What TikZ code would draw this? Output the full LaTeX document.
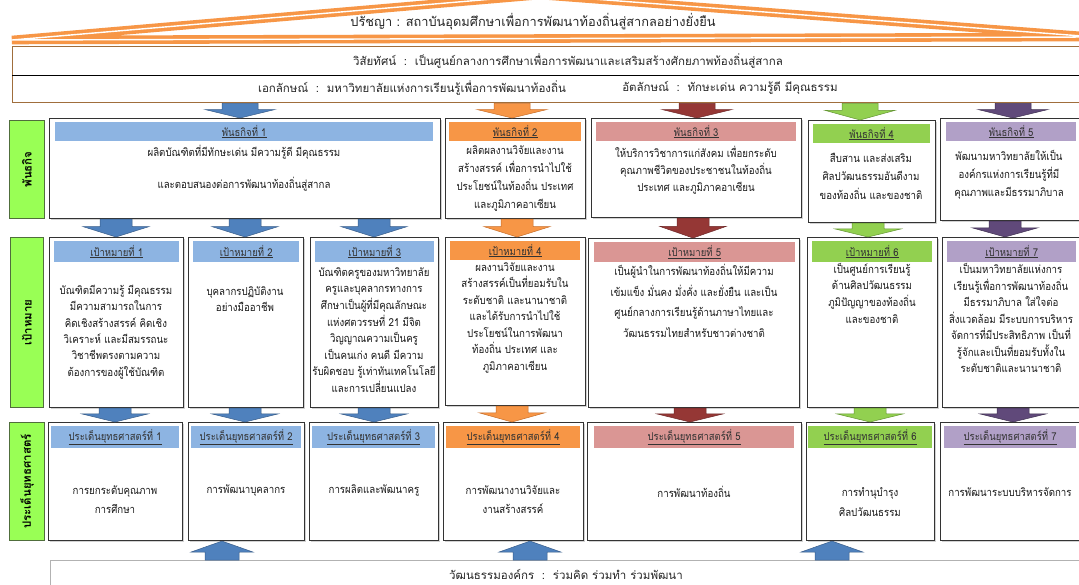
\documentclass[tikz,border=0pt]{standalone}
\usepackage{fontspec}
\newfontfamily\thai[Script=Thai]{Loma}
\newfontfamily\thaic[Script=Thai,FakeStretch=0.88]{Loma}
\usetikzlibrary{calc,shadows}
\definecolor{roof}{RGB}{247,150,70}
\definecolor{brownline}{RGB}{160,110,60}
\definecolor{hblue}{RGB}{141,180,226}
\definecolor{horange}{RGB}{247,150,70}
\definecolor{hpink}{RGB}{218,150,148}
\definecolor{hgreen}{RGB}{146,208,80}
\definecolor{hpurple}{RGB}{177,160,199}
\definecolor{ablue}{RGB}{79,129,189}
\definecolor{ablueD}{RGB}{56,93,138}
\definecolor{aorange}{RGB}{247,150,70}
\definecolor{aorangeD}{RGB}{200,110,40}
\definecolor{ared}{RGB}{149,55,53}
\definecolor{aredD}{RGB}{110,40,40}
\definecolor{agreen}{RGB}{146,208,80}
\definecolor{agreenD}{RGB}{100,150,50}
\definecolor{apurple}{RGB}{96,73,122}
\definecolor{apurpleD}{RGB}{64,49,82}
\definecolor{lime}{RGB}{153,255,85}
\definecolor{limeD}{RGB}{80,110,60}
\tikzset{
  mainbox/.style={draw=black!80, line width=1.1pt, fill=white, inner sep=0pt, anchor=north west,
    drop shadow={shadow xshift=1.6pt, shadow yshift=-1.6pt, fill=black!35}},
  sidebox/.style={draw=limeD, line width=0.9pt, fill=lime, inner sep=0pt, anchor=north west},
  visbox/.style={draw=brownline, line width=1.4pt, fill=white, inner sep=0pt, anchor=north west},
  botbox/.style={draw=black!30, line width=0.8pt, fill=white, inner sep=0pt, anchor=north west},
  hdr/.style={draw=none, inner sep=0pt, anchor=north west, text=black!80, font=\thaic\fontsize{10.8}{12}\selectfont},
  sidetxt/.style={rotate=90, inner sep=0pt, font=\thai\bfseries\fontsize{11.5}{13}\selectfont},
  body/.style={align=center, inner sep=0pt, text=black!90, font=\thaic\fontsize{11}{#1}\selectfont},
  toptxt/.style={inner sep=0pt, text=black!85, font=\thai\fontsize{11.5}{14}\selectfont},
  rooftxt/.style={inner sep=0pt, text=black!85, font=\thai\fontsize{12.8}{14}\selectfont},
  roofline/.style={draw=roof, line width=3.6pt, double=white, double distance=1.4pt, line join=bevel},
  arrowst/.style={line width=0.5pt},
}
\newcommand\mkbox[6]{\node[#6, minimum width={(#4)-(#2)}, minimum height={(#5)-(#3)}] (#1) at (#2,#3) {};}
\newcommand\mkhead[7]{\node[hdr, fill=#6, minimum width={(#4)-(#2)}, minimum height={(#5)-(#3)}] (#1) at (#2,#3) {\underline{#7}};}
% x, start point, end point, fill, edge, stem half width, head half width
\newcommand\blockarr[7]{\filldraw[arrowst, fill=#4, draw=#5] let \p1=(#2), \p2=(#3) in
 ({#1pt-#6pt},\y1) -- ({#1pt+#6pt},\y1) -- ({#1pt+#6pt},{(\y1)+0.42*((\y2)-(\y1))})
 -- ({#1pt+#7pt},{(\y1)+0.42*((\y2)-(\y1))}) -- (#1pt,\y2)
 -- ({#1pt-#7pt},{(\y1)+0.42*((\y2)-(\y1))}) -- ({#1pt-#6pt},{(\y1)+0.42*((\y2)-(\y1))}) -- cycle;}
\begin{document}
\begin{tikzpicture}[x=1pt,y=-1pt]
\clip (0,0) rectangle (1079,585);
\fill[white] (0,0) rectangle (1079,585);
% roof
\draw[roofline] (12,40) -- (540,-5) -- (1095,37) -- cycle;
\node[rooftxt] (philo) at (533,22) {ปรัชญา : สถาบันอุดมศึกษาเพื่อการพัฒนาท้องถิ่นสู่สากลอย่างยั่งยืน};
% vision box
\mkbox{vis}{12}{46}{1095}{102}{visbox}
\draw[black, line width=0.8pt] (vis.west |- 0,75) -- (vis.east |- 0,75);
\node[toptxt] (vist) at (568,61) {วิสัยทัศน์~~:~~เป็นศูนย์กลางการศึกษาเพื่อการพัฒนาและเสริมสร้างศักยภาพท้องถิ่นสู่สากล};
\node[toptxt] (idt1) at (412,88) {เอกลักษณ์~~:~~มหาวิทยาลัยแห่งการเรียนรู้เพื่อการพัฒนาท้องถิ่น};
\node[toptxt] (idt2) at (730,88) {อัตลักษณ์~~:~~ทักษะเด่น ความรู้ดี มีคุณธรรม};
% side labels
\mkbox{sm}{9}{120}{44}{218}{sidebox}
\node[sidetxt] (smt) at (sm.center) {พันธกิจ};
\mkbox{sg}{10}{237}{43}{407}{sidebox}
\node[sidetxt] (sgt) at (sg.center) {เป้าหมาย};
\mkbox{ss}{9}{422}{44}{540}{sidebox}
\node[sidetxt] (sst) at (ss.center) {ประเด็นยุทธศาสตร์};
% missions
\mkbox{m1}{49}{118}{440}{218}{mainbox}
\mkhead{hm1}{55}{122}{433}{141}{hblue}{พันธกิจที่ 1}
\node[body=32] (m1t) at (244,168) {ผลิตบัณฑิตที่มีทักษะเด่น มีความรู้ดี มีคุณธรรม\\และตอบสนองต่อการพัฒนาท้องถิ่นสู่สากล};
\mkbox{m2}{445}{118}{585}{218}{mainbox}
\mkhead{hm2}{449}{122}{581}{141}{horange}{พันธกิจที่ 2}
\node[body=18] (m2t) at (515,179) {ผลิตผลงานวิจัยและงาน\\สร้างสรรค์ เพื่อการนำไปใช้\\ประโยชน์ในท้องถิ่น ประเทศ\\และภูมิภาคอาเซียน};
\mkbox{m3}{591}{118}{801}{217}{mainbox}
\mkhead{hm3}{596}{122}{796}{141}{hpink}{พันธกิจที่ 3}
\node[body=17] (m3t) at (696,170) {ให้บริการวิชาการแก่สังคม เพื่อยกระดับ\\คุณภาพชีวิตของประชาชนในท้องถิ่น\\ประเทศ และภูมิภาคอาเซียน};
\mkbox{m4}{808}{120}{935}{222}{mainbox}
\mkhead{hm4}{813}{124}{930}{143}{hgreen}{พันธกิจที่ 4}
\node[body=18.5] (m4t) at (871,176) {สืบสาน และส่งเสริม\\ศิลปวัฒนธรรมอันดีงาม\\ของท้องถิ่น และของชาติ};
\mkbox{m5}{940}{118}{1095}{220}{mainbox}
\mkhead{hm5}{946}{122}{1076}{141}{hpurple}{พันธกิจที่ 5}
\node[body=18] (m5t) at (1009,175) {พัฒนามหาวิทยาลัยให้เป็น\\องค์กรแห่งการเรียนรู้ที่มี\\คุณภาพและมีธรรมาภิบาล};
% goals
\mkbox{g1}{49}{237}{183}{407}{mainbox}
\mkhead{hg1}{54}{241}{179}{262}{hblue}{เป้าหมายที่ 1}
\node[body=16.4] (g1t) at (116,332) {บัณฑิตมีความรู้ มีคุณธรรม\\มีความสามารถในการ\\คิดเชิงสร้างสรรค์ คิดเชิง\\วิเคราะห์ และมีสมรรถนะ\\วิชาชีพตรงตามความ\\ต้องการของผู้ใช้บัณฑิต};
\mkbox{g2}{188}{237}{303}{407}{mainbox}
\mkhead{hg2}{193}{241}{299}{262}{hblue}{เป้าหมายที่ 2}
\node[body=16] (g2t) at (245,299) {บุคลากรปฏิบัติงาน\\อย่างมืออาชีพ};
\mkbox{g3}{310}{237}{438}{407}{mainbox}
\mkhead{hg3}{315}{241}{434}{262}{hblue}{เป้าหมายที่ 3}
\node[body=16.6] (g3t) at (374,330) {บัณฑิตครูของมหาวิทยาลัย\\ครูและบุคลากรทางการ\\ศึกษาเป็นผู้ที่มีคุณลักษณะ\\แห่งศตวรรษที่ 21 มีจิต\\วิญญาณความเป็นครู\\เป็นคนเก่ง คนดี มีความ\\รับผิดชอบ รู้เท่าทันเทคโนโลยี\\และการเปลี่ยนแปลง};
\mkbox{g4}{445}{237}{585}{405}{mainbox}
\mkhead{hg4}{450}{241}{580}{260}{horange}{เป้าหมายที่ 4}
\node[body=16.5] (g4t) at (515,318) {ผลงานวิจัยและงาน\\สร้างสรรค์เป็นที่ยอมรับใน\\ระดับชาติ และนานาชาติ\\และได้รับการนำไปใช้\\ประโยชน์ในการพัฒนา\\ท้องถิ่น ประเทศ และ\\ภูมิภาคอาเซียน};
\mkbox{g5}{588}{238}{799}{407}{mainbox}
\mkhead{hg5}{594}{242}{795}{262}{hpink}{เป้าหมายที่ 5}
\node[body=20.7] (g5t) at (694,301) {เป็นผู้นำในการพัฒนาท้องถิ่นให้มีความ\\เข้มแข็ง มั่นคง มั่งคั่ง และยั่งยืน และเป็น\\ศูนย์กลางการเรียนรู้ด้านภาษาไทยและ\\วัฒนธรรมไทยสำหรับชาวต่างชาติ};
\mkbox{g6}{807}{237}{937}{407}{mainbox}
\mkhead{hg6}{812}{241}{932}{262}{hgreen}{เป้าหมายที่ 6}
\node[body=16.7] (g6t) at (872,293) {เป็นศูนย์การเรียนรู้\\ด้านศิลปวัฒนธรรม\\ภูมิปัญญาของท้องถิ่น\\และของชาติ};
\mkbox{g7}{942}{237}{1095}{407}{mainbox}
\mkhead{hg7}{947}{241}{1076}{262}{hpurple}{เป้าหมายที่ 7}
\node[body=16.5] (g7t) at (1011,318) {เป็นมหาวิทยาลัยแห่งการ\\เรียนรู้เพื่อการพัฒนาท้องถิ่น\\มีธรรมาภิบาล ใส่ใจต่อ\\สิ่งแวดล้อม มีระบบการบริหาร\\จัดการที่มีประสิทธิภาพ เป็นที่\\รู้จักและเป็นที่ยอมรับทั้งใน\\ระดับชาติและนานาชาติ};
% strategies
\mkbox{s1}{48}{422}{182}{540}{mainbox}
\mkhead{hs1}{51}{426}{179}{448}{hblue}{ประเด็นยุทธศาสตร์ที่ 1}
\node[body=19] (s1t) at (115,500) {การยกระดับคุณภาพ\\การศึกษา};
\mkbox{s2}{188}{422}{304}{540}{mainbox}
\mkhead{hs2}{191}{426}{301}{448}{hblue}{ประเด็นยุทธศาสตร์ที่ 2}
\node[body=19] (s2t) at (246,491) {การพัฒนาบุคลากร};
\mkbox{s3}{309}{422}{438}{540}{mainbox}
\mkhead{hs3}{312}{426}{435}{448}{hblue}{ประเด็นยุทธศาสตร์ที่ 3}
\node[body=19] (s3t) at (374,491) {การผลิตและพัฒนาครู};
\mkbox{s4}{443}{422}{583}{540}{mainbox}
\mkhead{hs4}{446}{426}{580}{448}{horange}{ประเด็นยุทธศาสตร์ที่ 4}
\node[body=19] (s4t) at (513,500) {การพัฒนางานวิจัยและ\\งานสร้างสรรค์};
\mkbox{s5}{587}{422}{801}{540}{mainbox}
\mkhead{hs5}{594}{426}{794}{448}{hpink}{ประเด็นยุทธศาสตร์ที่ 5}
\node[body=19] (s5t) at (694,492) {การพัฒนาท้องถิ่น};
\mkbox{s6}{806}{422}{934}{540}{mainbox}
\mkhead{hs6}{808}{426}{932}{448}{hgreen}{ประเด็นยุทธศาสตร์ที่ 6}
\node[body=20] (s6t) at (870,502) {การทำนุบำรุง\\ศิลปวัฒนธรรม};
\mkbox{s7}{940}{422}{1095}{540}{mainbox}
\mkhead{hs7}{944}{426}{1076}{448}{hpurple}{ประเด็นยุทธศาสตร์ที่ 7}
\node[body=19] (s7t) at (1010,492) {การพัฒนาระบบบริหารจัดการ};
% bottom box
\mkbox{bot}{50}{560}{1095}{600}{botbox}
\node[toptxt] (bott) at (566,574) {วัฒนธรรมองค์กร~~:~~ร่วมคิด ร่วมทำ ร่วมพัฒนา};
% arrows: vision -> missions
\blockarr{240}{vis.south}{m1.north}{ablue}{ablueD}{18}{35}
\blockarr{512}{vis.south}{m2.north}{aorange}{aorangeD}{18}{35}
\blockarr{697}{vis.south}{m3.north}{ared}{aredD}{18}{35}
\blockarr{860}{vis.south}{m4.north}{agreen}{agreenD}{18}{35}
\blockarr{1013}{vis.south}{m5.north}{apurple}{apurpleD}{18}{35}
% missions -> goals
\blockarr{116}{m1.south}{g1.north}{ablue}{ablueD}{16}{33}
\blockarr{245}{m1.south}{g2.north}{ablue}{ablueD}{16}{33}
\blockarr{374}{m1.south}{g3.north}{ablue}{ablueD}{16}{33}
\blockarr{517}{m2.south}{g4.north}{aorange}{aorangeD}{16}{33}
\blockarr{693}{m3.south}{g5.north}{ared}{aredD}{16}{33}
\blockarr{868}{m4.south}{g6.north}{agreen}{agreenD}{16}{33}
\blockarr{1005}{m5.south}{g7.north}{apurple}{apurpleD}{16}{33}
% goals -> strategies
\blockarr{115}{g1.south}{s1.north}{ablue}{ablueD}{16}{33}
\blockarr{245}{g2.south}{s2.north}{ablue}{ablueD}{16}{33}
\blockarr{374}{g3.south}{s3.north}{ablue}{ablueD}{16}{33}
\blockarr{512}{g4.south}{s4.north}{aorange}{aorangeD}{16}{33}
\blockarr{690}{g5.south}{s5.north}{ared}{aredD}{16}{33}
\blockarr{870}{g6.south}{s6.north}{agreen}{agreenD}{16}{33}
\blockarr{1013}{g7.south}{s7.north}{apurple}{apurpleD}{16}{33}
% culture -> strategies
\blockarr{222}{bot.north}{s2.south}{ablue}{ablueD}{17}{31}
\blockarr{530}{bot.north}{s4.south}{ablue}{ablueD}{17}{31}
\blockarr{832}{bot.north}{s6.south}{ablue}{ablueD}{17}{31}
\end{tikzpicture}
\end{document}
